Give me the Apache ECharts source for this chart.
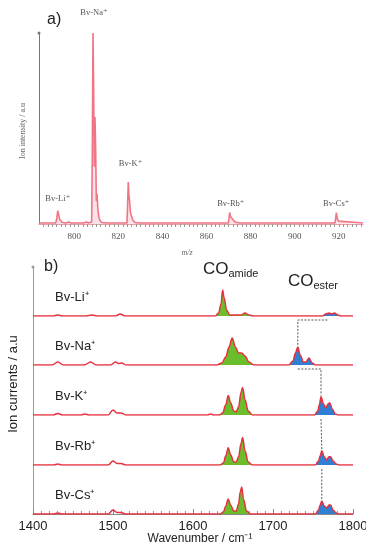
<!DOCTYPE html>
<html><head><meta charset="utf-8">
<script src="https://cdn.jsdelivr.net/npm/echarts@6/dist/echarts.min.js"></script>
<style>html,body{margin:0;padding:0;background:#fff}#c{width:366px;height:545px}</style>
</head><body><div id="c"></div>
<script>
// ---------- Panel a: mass spectrum ----------
var msPoints = [
 [784,0.5],[791.6,0.6],[792.1,3],[792.5,7],[792.9,5],[793.3,2.5],[793.8,1.5],[794.6,0.8],[796.5,0.6],[797.5,1],[798.5,0.5],
 [804.5,0.6],[805.5,1],[806.5,0.6],[807.9,1],[808.2,40],[808.5,100],[808.8,70],[809.1,30],[809.4,56],[809.7,40],[810.0,12],
 [810.3,16],[810.7,8],[811.1,4],[811.6,2],[812.5,0.8],[815,0.5],
 [823.9,0.6],[824.2,10],[824.5,22],[824.8,15],[825.1,12],[825.5,6],[826,4],[826.6,2],[827.5,0.8],[830,0.5],
 [869.9,0.5],[870.2,3],[870.5,6],[870.9,4],[871.4,3],[872,2.2],[873,1],[875,0.5],
 [918.3,0.6],[918.6,3],[918.9,6],[919.3,3],[919.9,1.5],[920.8,0.6],[931,0.5]
];
var msTickLabels = [800,820,840,860,880,900,920];
var msLabels = [
 {text:'Bv-Li⁺', mz:792.5, y:9},
 {text:'Bv-Na⁺', mz:808.9, y:106},
 {text:'Bv-K⁺',  mz:825.5, y:27},
 {text:'Bv-Rb⁺', mz:871.0, y:6},
 {text:'Bv-Cs⁺', mz:918.8, y:6}
];

// ---------- Panel b: IR spectra (each trace on its own baseline) ----------
var wnTickLabels = [1400,1500,1600,1700,1800];
var traceNames = ['Bv-Li⁺','Bv-Na⁺','Bv-K⁺','Bv-Rb⁺','Bv-Cs⁺'];
var liTrace = [[1400,0],[1425,0],[1431,1],[1437,0],[1466,0],[1474,1],[1480,0],[1503,0],[1509,2],[1515,0],
 [1628,0],[1632,3],[1635,12],[1637,26],[1639,18],[1642,6],[1646,1],[1660,1],[1665,3],[1670,1],[1675,0],
 [1762,0],[1766,2],[1770,3],[1773,2],[1777,3],[1781,1],[1785,0],[1800,0]];
var naTrace = [[1400,0],[1424,0],[1431,3],[1438,0],[1464,0],[1472,3],[1479,0],[1497,0],[1503,3],[1507,1.5],[1511,2],[1516,0],
 [1630,0],[1636,2],[1641,8],[1645,18],[1649,27],[1653,18],[1657,12],[1661,12],[1665,9],[1670,3],[1676,0],
 [1720,0],[1725,4],[1728,12],[1731,18],[1734,10],[1738,3],[1741,3],[1745,7],[1749,2],[1753,0],[1800,0]];
var kTrace = [[1400,0],[1425,0],[1431,1.5],[1437,0],[1460,0],[1465,1],[1470,0],[1494,0],[1500,5],[1505,2],[1510,2],[1516,0],
 [1618,0],[1622,1],[1626,0],[1633,0],[1637,2],[1641,10],[1644,19],[1647,12],[1651,4],[1654,3],[1657,8],[1660,22],[1662,27],[1665,15],[1669,4],[1674,0],
 [1752,0],[1756,4],[1758,10],[1760,18],[1763,11],[1766,7],[1769,11],[1771,12],[1774,6],[1778,1],[1781,0],[1800,0]];
var rbTrace = [[1400,0],[1426,0],[1431,1],[1436,0],[1494,0],[1500,4],[1505,1.5],[1510,1.5],[1516,0],
 [1634,0],[1638,2],[1641,9],[1644,17],[1647,10],[1651,3],[1654,3],[1657,8],[1660,21],[1662,27],[1665,14],[1669,3],[1674,0],
 [1753,0],[1757,4],[1759,9],[1761,14],[1764,8],[1767,5],[1770,8],[1772,8],[1775,4],[1779,1],[1782,0],[1800,0]];
var csTrace = [[1400,0],[1426,0],[1431,1],[1436,0],[1494,0],[1500,4],[1505,1.5],[1510,1.5],[1516,0],
 [1634,0],[1638,2],[1641,8],[1644,15],[1647,9],[1651,3],[1654,3],[1657,10],[1659,22],[1661,27],[1663,15],[1667,3],[1672,0],
 [1753,0],[1757,4],[1759,9],[1761,13],[1764,8],[1767,6],[1770,9],[1772,9],[1775,4],[1779,1],[1782,0],[1800,0]];
var amideRange = [1627,1680];
var esterRange = [1715,1790];
// ester peak positions for connectors [trace index, wavenumber, peak height]
var esterPeaks = [[0,1768,3],[1,1731,18],[2,1760,18],[3,1761,14],[4,1761,13]];

var traces = [liTrace,naTrace,kTrace,rbTrace,csTrace];
var gridTops = [267,316,365,415,465];
var gridHeights = [49,49,50,50,49];
var YMAX = 49;

var SERIF = '"Liberation Serif", "DejaVu Serif", serif';
var SANS = '"Liberation Sans", Arial, sans-serif';
var RED = '#e5323e';

var chart = echarts.init(document.getElementById('c'), null, {renderer:'canvas'});

var grids = [{left:39, right:3, top:33, height:191, outerBoundsMode:'none', containLabel:false}];
var xAxes = [], yAxes = [], series = [];
var msTicks = [];
for (var t = 786; t <= 930; t += 2) msTicks.push(t);

xAxes.push({gridIndex:0, type:'value', min:784, max:931,
  axisLine:{show:true, lineStyle:{color:'#e9a0a8', width:1}},
  axisTick:{show:true, customValues:msTicks, length:3, lineStyle:{color:'#999'}},
  axisLabel:{show:true, customValues:msTickLabels, color:'#555', fontFamily:SERIF, fontSize:9, margin:8,
    formatter:function(v){return String(v);}},
  splitLine:{show:false}});
yAxes.push({gridIndex:0, type:'value', min:0, max:100,
  axisLine:{show:true, symbol:['none','circle'], symbolSize:[3,3], lineStyle:{color:'#777', width:1}},
  axisTick:{show:false}, axisLabel:{show:false}, splitLine:{show:false}});
series.push({type:'line', xAxisIndex:0, yAxisIndex:0, data:msPoints, symbol:'none',
  lineStyle:{color:'#f07585', width:1.6}, areaStyle:{color:'rgba(245,150,165,0.4)'}, z:3});

for (var i = 0; i < 5; i++) {
  var gi = i + 1;
  var last = (i === 4);
  grids.push({left:33, right:13, top:gridTops[i], height:gridHeights[i], outerBoundsMode:'none', containLabel:false});
  xAxes.push({gridIndex:gi, type:'value', min:1400, max:1800, interval:100,
    show:true,
    axisLine:{show:last, lineStyle:{color:'#888', width:1}},
    axisTick:{show:last, inside:true, length:5, lineStyle:{color:'#888'}},
    minorTick:{show:last, splitNumber:10, length:3, lineStyle:{color:'#999'}},
    axisLabel:{show:last, color:'#222', fontFamily:SANS, fontSize:13, margin:6,
      customValues:wnTickLabels, formatter:function(v){return String(v);}},
    splitLine:{show:false}, minorSplitLine:{show:false}});
  yAxes.push({gridIndex:gi, type:'value', min:0, max:YMAX,
    axisLine:{show:true, symbol: i===0 ? ['none','circle'] : ['none','none'], symbolSize:[3,3], lineStyle:{color:'#999', width:1}},
    axisTick:{show:false}, axisLabel:{show:false}, splitLine:{show:false}});
  var tr = traces[i];
  var am = tr.filter(function(p){return p[0]>=amideRange[0] && p[0]<=amideRange[1];});
  var es = tr.filter(function(p){return p[0]>=esterRange[0] && p[0]<=esterRange[1];});
  series.push({type:'line', xAxisIndex:gi, yAxisIndex:gi, data:am, symbol:'none', smooth:0.35, smoothMonotone:'x',
    lineStyle:{width:0}, areaStyle:{color:'#6cbd2b', opacity:1}, z:2});
  series.push({type:'line', xAxisIndex:gi, yAxisIndex:gi, data:es, symbol:'none', smooth:0.35, smoothMonotone:'x',
    lineStyle:{width:0}, areaStyle:{color:'#2f7fd4', opacity:1}, z:2});
  series.push({type:'line', xAxisIndex:gi, yAxisIndex:gi, data:tr, symbol:'none', smooth:0.35, smoothMonotone:'x',
    lineStyle:{color:RED, width:1.5}, z:4});
}

var graphics = [
  {id:'ta', type:'text', left:47, top:12, style:{text:'a)', font:'16px '+SANS, fill:'#222'}},
  {id:'tb', type:'text', left:44, top:259, style:{text:'b)', font:'16px '+SANS, fill:'#222'}},
  {id:'ya', type:'text', x:23, y:131, rotation:Math.PI/2, style:{text:'Ion intensity / a.u', font:'8px '+SERIF, fill:'#666', align:'center', verticalAlign:'middle'}},
  {id:'xa', type:'text', x:187, y:253, style:{text:'m/z', font:'italic 8px '+SERIF, fill:'#666', align:'center', verticalAlign:'middle'}},
  {id:'yb', type:'text', x:13, y:384, rotation:Math.PI/2, style:{text:'Ion currents / a.u', font:'13px '+SANS, fill:'#222', align:'center', verticalAlign:'middle'}},
  {id:'xb', type:'text', x:200, y:539, style:{text:'Wavenumber / cm⁻¹', font:'12px '+SANS, fill:'#222', align:'center', verticalAlign:'middle'}},
  {id:'coa', type:'text', left:203, top:261, style:{text:'{a|CO}{s|amide}', rich:{a:{fontSize:17, fontFamily:SANS, fill:'#222'}, s:{fontSize:11, fontFamily:SANS, fill:'#222', padding:[9,0,0,0]}}}},
  {id:'coe', type:'text', left:288, top:273, style:{text:'{a|CO}{s|ester}', rich:{a:{fontSize:17, fontFamily:SANS, fill:'#222'}, s:{fontSize:11, fontFamily:SANS, fill:'#222', padding:[9,0,0,0]}}}}
];
for (var k = 0; k < 5; k++) {
  graphics.push({id:'tl'+k, type:'text', left:55, top:gridTops[k]+gridHeights[k]-25, style:{text:traceNames[k], font:'13px '+SANS, fill:'#222', verticalAlign:'middle'}});
}

chart.setOption({
  animation:false,
  grid:grids, xAxis:xAxes, yAxis:yAxes, series:series, graphic:graphics
});

// data-anchored labels and connectors
var extra = [];
msLabels.forEach(function(l, idx){
  var p = chart.convertToPixel({gridIndex:0}, [l.mz, l.y]);
  extra.push({id:'ml'+idx, type:'text', x:p[0], y:p[1]-4, style:{text:l.text, font:'8.5px '+SERIF, fill:'#555', align:'center', verticalAlign:'bottom'}});
});
function px(ti, x, y){ return chart.convertToPixel({gridIndex:ti+1}, [x, y]); }
var ep = esterPeaks;
var conns = [
  [px(0, ep[0][1], -4), px(0, ep[1][1], -4), px(1, ep[1][1], ep[1][2]+1)],
  [px(1, ep[1][1], -4), px(1, ep[2][1], -4), px(2, ep[2][1], ep[2][2]+1)],
  [px(2, ep[2][1], -4), px(3, ep[3][1], ep[3][2]+1)],
  [px(3, ep[3][1], -4), px(4, ep[4][1], ep[4][2]+1)]
];
conns.forEach(function(pts, idx){
  extra.push({id:'cn'+idx, type:'polyline', shape:{points:pts}, style:{stroke:'#555', lineWidth:1, lineDash:[2,1.5], fill:null}, z:10});
});
chart.setOption({graphic:extra});
</script>
</body></html>
